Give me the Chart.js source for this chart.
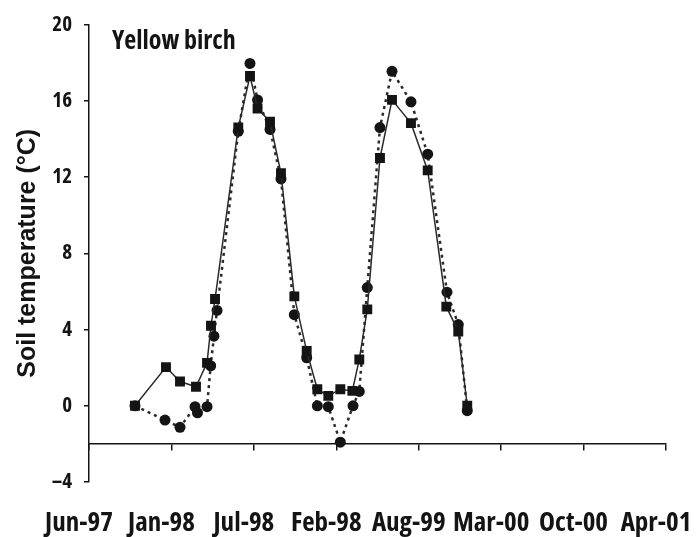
<!DOCTYPE html>
<html>
<head>
<meta charset="utf-8">
<script src="https://cdn.jsdelivr.net/npm/chart.js@4"></script>
<style>
  html, body { margin: 0; padding: 0; background: #fff; }
  #wrap { width: 698px; height: 537px; }
</style>
</head>
<body>
<div id="wrap"><canvas id="c" width="698" height="537"></canvas></div>
<script>
// Date axis labels (one per tick interval)
const dateLabels = ['Jun-97', 'Jan-98', 'Jul-98', 'Feb-98', 'Aug-99', 'Mar-00', 'Oct-00', 'Apr-01'];

// Temperature axis ticks
const tempTicks = [-4, 0, 4, 8, 12, 16, 20];
const tempTickLabels = ['\u20134', '0', '4', '8', '12', '16', '20'];

// Sampling times, in units of the date-label interval from Jun-97
const squareTime = [0.558, 0.934, 1.104, 1.298, 1.432, 1.480, 1.529, 1.811, 1.953, 2.045, 2.196, 2.329,
  2.491, 2.641, 2.770, 2.903, 3.049, 3.195, 3.279, 3.376, 3.530, 3.676, 3.906, 4.109, 4.335, 4.480, 4.589];
const squareTemp = [0.0, 2.03, 1.27, 1.0, 2.25, 4.2, 5.6, 14.6, 17.3, 15.6, 14.9, 12.2,
  5.74, 2.87, 0.87, 0.52, 0.87, 0.78, 2.43, 5.06, 13.0, 16.05, 14.83, 12.35, 5.2, 3.9, 0.0];

const circleTime = [0.558, 0.922, 1.104, 1.286, 1.316, 1.432, 1.476, 1.516, 1.553, 1.811, 1.953, 2.045, 2.196, 2.329,
  2.491, 2.641, 2.770, 2.903, 3.049, 3.203, 3.279, 3.376, 3.530, 3.676, 3.906, 4.109, 4.343, 4.480, 4.589];
const circleTemp = [0.0, -0.75, -1.13, -0.05, -0.37, -0.05, 2.1, 3.65, 5.0, 14.4, 17.96, 16.05, 14.5, 11.9,
  4.78, 2.52, 0.0, -0.05, -1.91, 0.0, 0.75, 6.2, 14.6, 17.55, 15.95, 13.2, 5.96, 4.26, -0.26];

const ink = '#141414';
// condensed width of the Open Sans variable face
const condensedFamily = "'Open Sans', 'DejaVu Sans Condensed', sans-serif";
const condensedBold = 'bold condensed';

const pairs = (xs, ys) => xs.map((x, i) => ({ x: x, y: ys[i] }));

// Panel caption drawn inside the plot, near the top-left corner
const panelCaption = {
  id: 'panelCaption',
  afterDraw(chart) {
    const { ctx, chartArea } = chart;
    ctx.save();
    ctx.fillStyle = ink;
    ctx.font = condensedBold + ' 26px ' + condensedFamily;
    ctx.textBaseline = 'alphabetic';
    ctx.textAlign = 'left';
    ctx.fillText('Yellow birch', chartArea.left + 23, chartArea.top + 24);
    ctx.restore();
  }
};

new Chart(document.getElementById('c'), {
  type: 'scatter',
  data: {
    datasets: [
      {
        label: 'Squares',
        data: pairs(squareTime, squareTemp),
        showLine: true,
        borderColor: '#2a2a2a',
        borderWidth: 1.5,
        pointStyle: 'rect',
        pointRadius: 7,
        pointBackgroundColor: ink,
        pointBorderColor: ink,
        pointBorderWidth: 0
      },
      {
        label: 'Circles',
        data: pairs(circleTime, circleTemp),
        showLine: true,
        borderColor: '#2a2a2a',
        borderWidth: 2.5,
        borderDash: [3, 4],
        pointStyle: 'circle',
        pointRadius: 5.5,
        pointBackgroundColor: ink,
        pointBorderColor: ink,
        pointBorderWidth: 0
      }
    ]
  },
  options: {
    responsive: false,
    animation: false,
    events: [],
    layout: { padding: { left: 0, right: 32, top: 22, bottom: 0 } },
    plugins: { legend: { display: false }, tooltip: { enabled: false } },
    scales: {
      // axis line crossing the temperature axis at -2
      x: {
        type: 'linear', min: 0, max: dateLabels.length - 1, position: { y: -2 },
        ticks: { display: false, stepSize: 1 },
        grid: { drawOnChartArea: false, tickLength: 6, color: ink, lineWidth: 1.5 },
        border: { color: ink, width: 1.5 }
      },
      // date labels along the bottom edge
      xl: {
        type: 'linear', axis: 'x', position: 'bottom', min: 0, max: dateLabels.length - 1,
        afterBuildTicks(scale) { scale.ticks = dateLabels.map((_, i) => ({ value: i })); },
        ticks: {
          autoSkip: false, maxRotation: 0, padding: 17, labelOffset: -10, color: ink,
          font: { family: condensedFamily, size: 27, weight: condensedBold },
          callback: (v) => dateLabels[v]
        },
        grid: { display: false },
        border: { display: false },
        afterFit(scale) { scale.height = 55; scale.paddingLeft = 0; scale.paddingRight = 0; }
      },
      y: {
        type: 'linear', min: tempTicks[0], max: tempTicks[tempTicks.length - 1],
        afterBuildTicks(scale) { scale.ticks = tempTicks.map(v => ({ value: v })); },
        ticks: {
          padding: 12, color: ink,
          font: { family: condensedFamily, size: 21, weight: condensedBold },
          callback: (v) => tempTickLabels[tempTicks.indexOf(v)]
        },
        grid: { drawOnChartArea: false, tickLength: 5, color: ink, lineWidth: 1.5 },
        border: { color: ink, width: 1.5 },
        title: {
          display: true, text: 'Soil temperature (\u00B0C)', color: ink,
          font: { family: "'Liberation Sans', Arial, sans-serif", size: 25, weight: 'bold' },
          padding: { top: 13, bottom: 0 }
        },
        afterFit(scale) { scale.width = 89; }
      }
    }
  },
  plugins: [panelCaption]
});
</script>
</body>
</html>
